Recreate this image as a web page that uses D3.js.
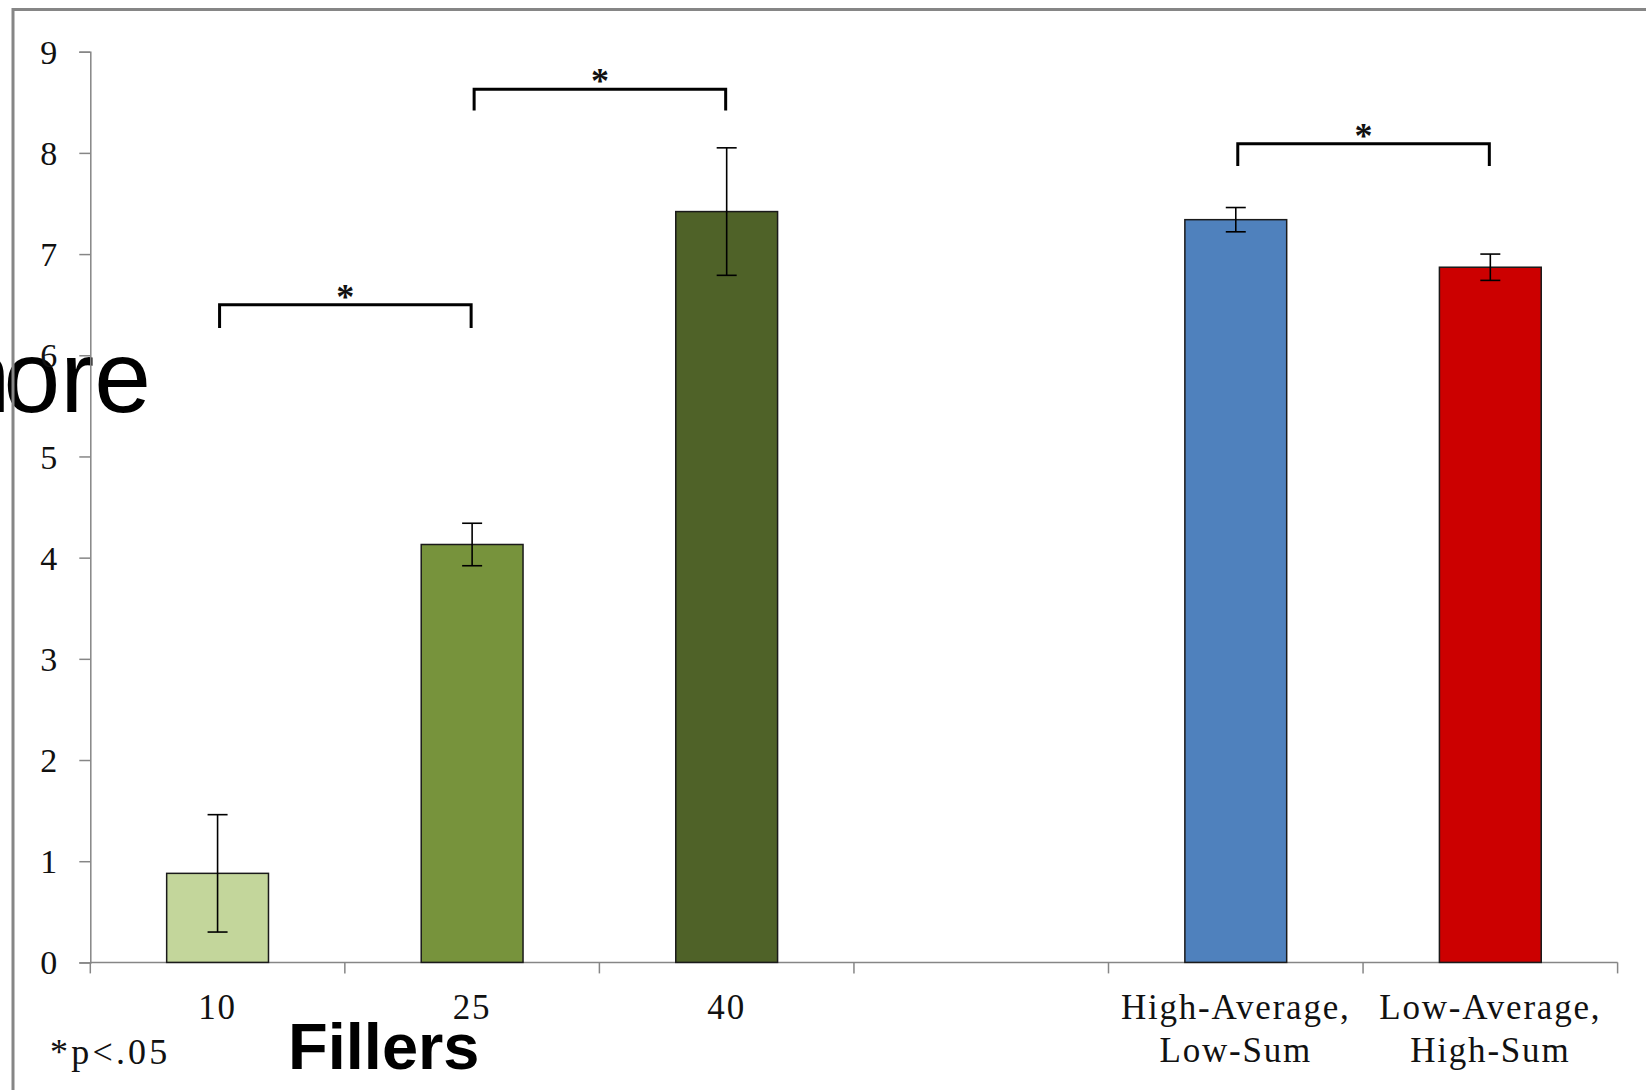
<!DOCTYPE html>
<html>
<head>
<meta charset="utf-8">
<script src="https://cdn.jsdelivr.net/npm/d3@7"></script>
<style>
  html, body { margin: 0; padding: 0; background: #fff; overflow: hidden; }
  svg { display: block; }
</style>
</head>
<body>
<svg id="chart" width="1646" height="1090"></svg>
<script>
// ---- data ----
const categories = ["10", "25", "40", "", "High-Average,|Low-Sum", "Low-Average,|High-Sum"];
const barCategories = ["10", "25", "40", "High-Average,|Low-Sum", "Low-Average,|High-Sum"];
const means = [0.88, 4.13, 7.42, 7.34, 6.87];
const errors = [0.58, 0.21, 0.63, 0.12, 0.13];
const barColors = ["#C3D69B", "#77933C", "#4F6228", "#4F81BD", "#CC0000"];
const yTicks = [0, 1, 2, 3, 4, 5, 6, 7, 8, 9];
// significance brackets: [from, to, top value, leg-bottom value]
const bracketFrom = ["10", "25", "High-Average,|Low-Sum"];
const bracketTo = ["25", "40", "Low-Average,|High-Sum"];
const bracketTop = [6.50, 8.63, 8.09];
const bracketLeg = [6.27, 8.42, 7.87];

const svg = d3.select("#chart");

const x = d3.scaleBand().domain(categories).range([90.3, 1617.6]).padding(0);
const y = d3.scaleLinear().domain([0, 9]).range([962.4, 51.7]);
const bw = x.bandwidth() * 0.4;
const cxOf = c => x(c) + x.bandwidth() / 2;

// background overlay text (fragment of a slide, cut at the left edge)
const bg = svg.append("text")
  .attr("x", 151).attr("y", 412)
  .attr("text-anchor", "end")
  .style("font-family", "'Liberation Sans', Arial, sans-serif")
  .style("font-size", "102px")
  .attr("fill", "#000");
bg.append("tspan").text("m");
bg.append("tspan").attr("dx", -7).text("ore");

// frame (extends beyond right and bottom edges)
svg.append("rect")
  .attr("x", 13).attr("y", 9.5)
  .attr("width", 1700).attr("height", 1200)
  .attr("fill", "none")
  .attr("stroke", "#868686")
  .attr("stroke-width", 3);

// y axis
const yAxis = d3.axisLeft(y).tickValues(yTicks).tickSize(11).tickPadding(22).tickFormat(d3.format("d"));
const gy = svg.append("g").attr("transform", "translate(90.3,0)").call(yAxis);
gy.select(".domain").attr("stroke", "#868686").attr("stroke-width", 1.5);
gy.selectAll(".tick line").attr("stroke", "#868686").attr("stroke-width", 1.5);
gy.selectAll(".tick text")
  .style("font-family", "'Liberation Serif', 'Times New Roman', serif")
  .style("font-size", "34px")
  .attr("fill", "#111")
  .attr("dy", "0.34em");

// x axis line and boundary ticks
const boundaries = categories.map(c => x(c)).concat([x.range()[1]]);
svg.append("line")
  .attr("x1", x.range()[0]).attr("x2", x.range()[1])
  .attr("y1", y(0)).attr("y2", y(0))
  .attr("stroke", "#868686").attr("stroke-width", 1.5);
svg.append("g").selectAll("line").data(boundaries).join("line")
  .attr("x1", d => d).attr("x2", d => d)
  .attr("y1", y(0)).attr("y2", y(0) + 11)
  .attr("stroke", "#868686").attr("stroke-width", 1.5);

// x labels
const xl = svg.append("g").selectAll("text").data(categories.filter(c => c !== "")).join("text")
  .attr("x", d => cxOf(d))
  .attr("y", 1019)
  .attr("text-anchor", "middle")
  .style("font-family", "'Liberation Serif', 'Times New Roman', serif")
  .style("font-size", "35px")
  .style("letter-spacing", "1.8px")
  .attr("fill", "#111");
xl.each(function(d) {
  const t = d3.select(this);
  d.split("|").forEach((ln, i) => {
    t.append("tspan").attr("x", cxOf(d)).attr("dy", i === 0 ? 0 : 43).text(ln);
  });
});

// bars
svg.append("g").selectAll("rect").data(barCategories).join("rect")
  .attr("x", d => cxOf(d) - bw / 2)
  .attr("y", (d, i) => y(means[i]))
  .attr("width", bw)
  .attr("height", (d, i) => y(0) - y(means[i]))
  .attr("fill", (d, i) => barColors[i])
  .attr("stroke", "#1a1a1a")
  .attr("stroke-width", 1.5);

// error bars
const eg = svg.append("g").attr("stroke", "#000").attr("stroke-width", 1.6);
barCategories.forEach((c, i) => {
  const cx = cxOf(c);
  eg.append("line").attr("x1", cx).attr("x2", cx)
    .attr("y1", y(means[i] + errors[i])).attr("y2", y(means[i] - errors[i]));
  [means[i] + errors[i], means[i] - errors[i]].forEach(v => {
    eg.append("line").attr("x1", cx - 10).attr("x2", cx + 10)
      .attr("y1", y(v)).attr("y2", y(v));
  });
});

// significance brackets
bracketFrom.forEach((f, i) => {
  const x1 = cxOf(f) + 2;
  const x2 = cxOf(bracketTo[i]) - 1;
  const yt = y(bracketTop[i]), yb = y(bracketLeg[i]);
  svg.append("path")
    .attr("d", `M${x1},${yb}V${yt}H${x2}V${yb}`)
    .attr("fill", "none").attr("stroke", "#000").attr("stroke-width", 3);
  svg.append("text")
    .attr("x", (x1 + x2) / 2).attr("y", yt + 4)
    .attr("text-anchor", "middle")
    .style("font-family", "'Liberation Serif', 'Times New Roman', serif")
    .style("font-size", "36px")
    .style("font-weight", "bold")
    .attr("fill", "#111")
    .text("*");
});

// footnote
svg.append("text")
  .attr("x", 50).attr("y", 1064)
  .style("font-family", "'Liberation Serif', 'Times New Roman', serif")
  .style("font-size", "36px")
  .style("letter-spacing", "3.2px")
  .attr("fill", "#111")
  .text("*p<.05");

// large axis caption
svg.append("text")
  .attr("x", 288).attr("y", 1069)
  .style("font-family", "'Liberation Sans', Arial, sans-serif")
  .style("font-size", "65px")
  .style("font-weight", "bold")
  .attr("fill", "#000")
  .text("Fillers");
</script>
</body>
</html>
